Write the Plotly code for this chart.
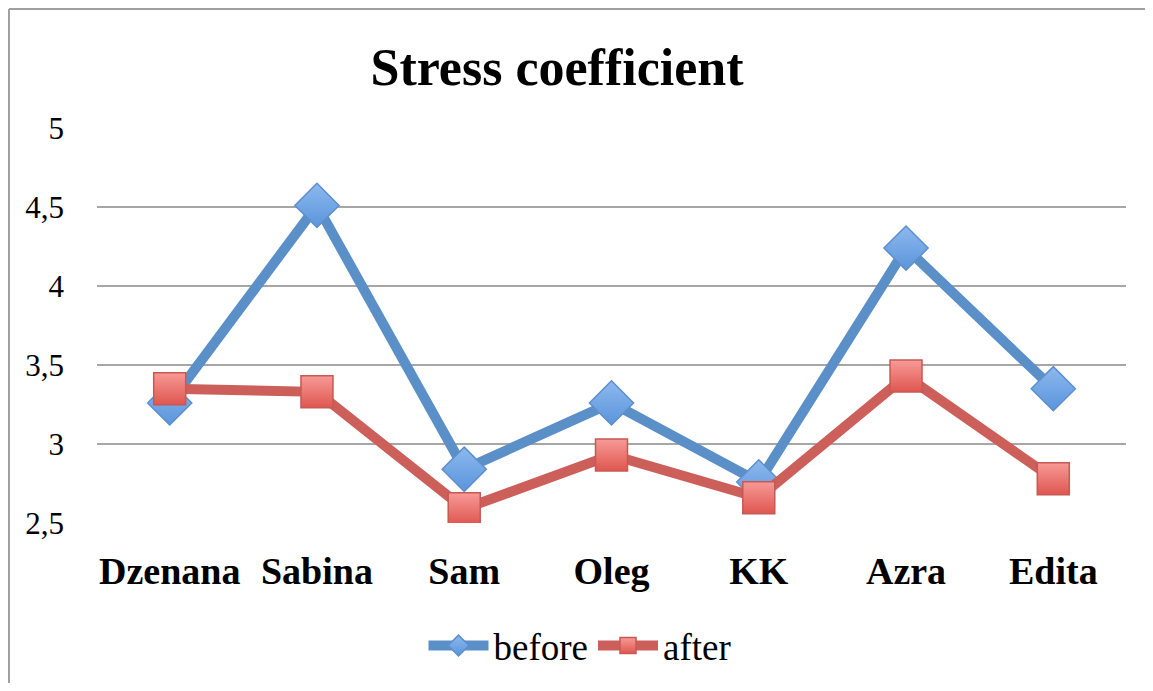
import plotly.graph_objects as go

categories = ["Dzenana", "Sabina", "Sam", "Oleg", "KK", "Azra", "Edita"]
before = [3.26, 4.51, 2.84, 3.26, 2.76, 4.24, 3.35]
after = [3.35, 3.33, 2.59, 2.93, 2.66, 3.43, 2.78]
y_ticks = [2.5, 3, 3.5, 4, 4.5, 5]
y_labels = ["2,5", "3", "3,5", "4", "4,5", "5"]

SERIF = "Liberation Serif, DejaVu Serif, serif"

# page body has an 8px margin; keep the figure inside the window
OFF = 8
W, H = 1153 - 2 * OFF, 691 - 2 * OFF
L, R, T = 97 - OFF, (W + OFF) - 1126, 128 - OFF
B = H - T - 395

fig = go.Figure()
fig.add_trace(go.Scatter(
    x=categories, y=before, name="before", mode="lines+markers",
    line=dict(color="#5B8FC8", width=10),
    marker=dict(symbol="diamond", size=34, color="#8DB8EE",
                gradient=dict(type="vertical", color="#5A95DC"),
                line=dict(color="#5F8FCB", width=1.5)),
))
fig.add_trace(go.Scatter(
    x=categories, y=after, name="after", mode="lines+markers",
    line=dict(color="#CC5F5A", width=10),
    marker=dict(symbol="square", size=32, color="#F79A96",
                gradient=dict(type="vertical", color="#DF5650"),
                line=dict(color="#C75955", width=1.5)),
))

pw = W - L - R
ph = H - T - B
x0 = (1 - L) / pw
xr = (W - L) / pw
y1 = 1 + (T - 1) / ph
fig.add_shape(type="line", xref="paper", yref="paper", x0=x0, x1=x0, y0=-B / ph, y1=y1,
              line=dict(color="#A0A0A0", width=2))
fig.add_shape(type="line", xref="paper", yref="paper", x0=x0, x1=xr, y0=y1, y1=y1,
              line=dict(color="#A0A0A0", width=2))

fig.update_layout(
    width=W, height=H,
    margin=dict(l=L, r=R, t=T, b=B, autoexpand=False),
    paper_bgcolor="white", plot_bgcolor="white",
    title=dict(text="<b>Stress coefficient</b>", x=(557 - OFF) / W, xanchor="center",
               xref="container", y=1 - (67 - OFF) / H, yanchor="middle",
               font=dict(family=SERIF, size=52, color="black")),
    xaxis=dict(type="category", showgrid=False, showline=False, ticks="",
               tickfont=dict(family=SERIF, size=38, color="black"),
               tickprefix="<b>", ticksuffix="</b>", ticklabelstandoff=22),
    yaxis=dict(range=[2.5, 5], tickvals=y_ticks, ticktext=y_labels,
               showgrid=True, gridcolor="#A6A6A6", gridwidth=2,
               zeroline=False, showline=False, ticks="",
               tickfont=dict(family=SERIF, size=31, color="black"),
               ticklabelstandoff=32),
    legend=dict(orientation="h", x=(580 - 97) / 1029, xanchor="center",
                y=-(646 - 523) / ph, yanchor="middle",
                font=dict(family=SERIF, size=37, color="black"),
                itemwidth=60, tracegroupgap=0),
    showlegend=True,
)
fig.write_html("out.html")
